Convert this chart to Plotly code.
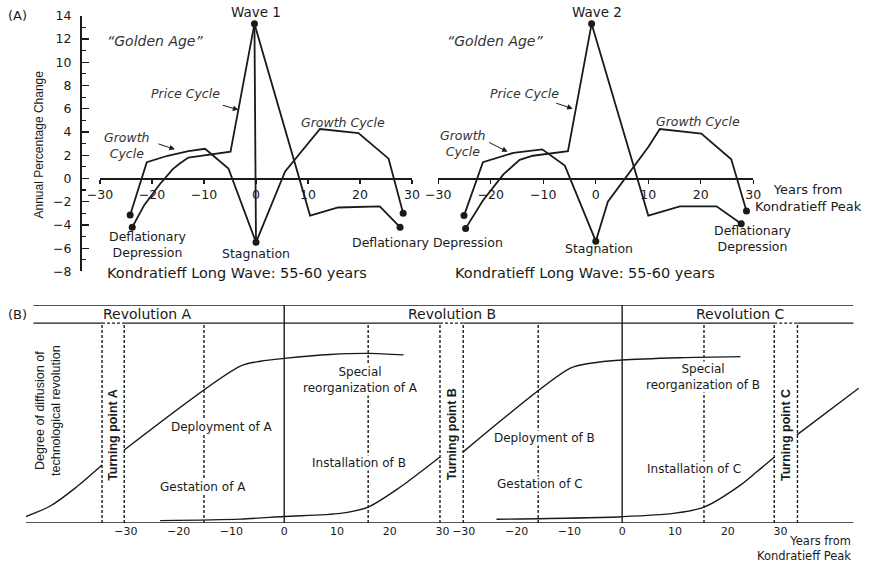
import plotly.graph_objects as go

W, H = 874, 565
FONT = "DejaVu Sans"
ARIAL = "Liberation Sans, Arial"
INK = "#1a1a1a"

# ---------------- Panel A data (annual percentage change) ----------------
xticks_A = [-30, -20, -10, 0, 10, 20, 30]
yticks_A = [-8, -6, -4, -2, 0, 2, 4, 6, 8, 10, 12, 14]

# Wave 1
w1_growth_x = [-24.2, -21.0, -17.0, -13.0, -9.8, -5.3, 0.0, 5.6, 12.3, 19.7, 25.5, 28.3]
w1_growth_y = [-3.15, 1.4, 1.95, 2.35, 2.55, 0.85, -5.5, 0.6, 4.25, 3.9, 1.7, -3.0]
w1_price_x = [-23.8, -21.5, -18.5, -16.0, -14.6, -13.0, -4.9, -0.3, 10.4, 15.8, 23.8, 27.7]
w1_price_y = [-4.2, -2.3, -0.5, 0.8, 1.3, 1.8, 2.3, 13.3, -3.2, -2.5, -2.4, -4.2]

# Wave 2
w2_growth_x = [-25.1, -21.5, -15.7, -10.2, -5.9, 0.0, 2.3, 10.0, 12.2, 20.1, 25.8, 28.7]
w2_growth_y = [-3.2, 1.4, 2.2, 2.5, 1.1, -5.4, -2.0, 2.7, 4.25, 3.85, 1.65, -2.8]
w2_price_x = [-24.8, -21.5, -17.6, -14.5, -12.0, -5.3, -0.8, 10.0, 16.0, 23.0, 27.7]
w2_price_y = [-4.3, -1.9, 0.35, 1.6, 1.95, 2.35, 13.3, -3.2, -2.4, -2.4, -3.9]

divider_x = [31.7, 34.0]          # dashed separators, in wave-1 years
divider_y = [-8.9, 13.8]

# ---------------- Panel B data (diffusion of technological revolutions) ----------------
peaks_B = [0, 64]                 # Kondratieff peaks on a common year axis
tickvals_B = [-30, -20, -10, 0, 10, 20, 30, 34, 44, 54, 64, 74, 84, 94]
ticktext_B = ["\u221230", "\u221220", "\u221210", "0", "10", "20", "30",
              "\u221230", "\u221220", "\u221210", "0", "10", "20", "30"]
turning_A = [-34.5, -30.3]
turning_B = [29.5, 33.9]
turning_C = [92.8, 97.2]
phase_lines = [-15.2, 15.9, 48.1, 79.5]

revA_x = [-49.2, -44.3, -39.6, -34.5, None, -30.3, -8.3, -4.5, 0.0, 8.7, 16.0, 22.6]
revA_y = [2.75, 7.8, 16.0, 26.6, None, 33.5, 72.0, 74.2, 75.5, 77.3, 77.8, 77.1]
revB_x = [-23.5, -8.3, 0.0, 10.6, 15.9, 22.0, 25.8, 29.5, None, 33.8, 54.2, 58.0, 64.0, 75.0, 86.4]
revB_y = [1.1, 1.8, 3.0, 4.4, 7.3, 16.5, 23.4, 30.3, None, 32.4, 71.0, 73.3, 74.8, 75.8, 76.3]
revC_x = [40.2, 64.0, 73.7, 79.5, 86.4, 89.5, 92.9, None, 97.1, 108.8]
revC_y = [1.7, 2.9, 4.4, 7.3, 17.4, 23.5, 30.4, None, 40.4, 61.8]

# ---------------- layout geometry ----------------
XA1_DOM = [100 / W, 412 / W]
XA2_DOM = [438.3 / W, 753.3 / W]
YA_DOM = [1 - 271.4 / H, 1 - 15.7 / H]
YA_RANGE = [-8, 14]
XA_RANGE = [-30, 30]


def pax(x, dom):
    return dom[0] + (x - XA_RANGE[0]) / (XA_RANGE[1] - XA_RANGE[0]) * (dom[1] - dom[0])


def pay(y):
    return YA_DOM[0] + (y - YA_RANGE[0]) / (YA_RANGE[1] - YA_RANGE[0]) * (YA_DOM[1] - YA_DOM[0])


fig = go.Figure()

line_style = dict(color=INK, width=1.8)
dot_style = dict(color=INK, size=7)


def add_wave(gx, gy, px, py, xa, vertical):
    fig.add_trace(go.Scatter(x=gx, y=gy, mode="lines", line=line_style,
                             xaxis=xa, yaxis="y", showlegend=False, hoverinfo="skip"))
    fig.add_trace(go.Scatter(x=px, y=py, mode="lines", line=line_style,
                             xaxis=xa, yaxis="y", showlegend=False, hoverinfo="skip"))
    ip = py.index(max(py))
    ig = gy.index(min(gy))
    if vertical:
        fig.add_trace(go.Scatter(x=[px[ip], gx[ig]], y=[py[ip], gy[ig]], mode="lines",
                                 line=line_style, xaxis=xa, yaxis="y",
                                 showlegend=False, hoverinfo="skip"))
    dx = [gx[0], gx[-1], px[0], px[-1], px[ip], gx[ig]]
    dy = [gy[0], gy[-1], py[0], py[-1], py[ip], gy[ig]]
    fig.add_trace(go.Scatter(x=dx, y=dy, mode="markers", marker=dot_style,
                             xaxis=xa, yaxis="y", showlegend=False, hoverinfo="skip",
                             cliponaxis=False))


add_wave(w1_growth_x, w1_growth_y, w1_price_x, w1_price_y, "x", True)
add_wave(w2_growth_x, w2_growth_y, w2_price_x, w2_price_y, "x2", False)

curve_style = dict(color=INK, width=1.4, shape="spline", smoothing=0.8)
for cx, cy in [(revA_x, revA_y), (revB_x, revB_y), (revC_x, revC_y)]:
    fig.add_trace(go.Scatter(x=cx, y=cy, mode="lines", line=curve_style,
                             connectgaps=False, xaxis="x3", yaxis="y3",
                             showlegend=False, hoverinfo="skip", cliponaxis=False))

shapes = []
dash = "3px,2px"
# Panel A separators
for dxv in divider_x:
    shapes.append(dict(type="line", xref="x", yref="y", x0=dxv, x1=dxv,
                       y0=divider_y[0], y1=divider_y[1],
                       line=dict(color=INK, width=1.5, dash=dash)))
# Panel B frame
x_left_axis, x_left_head, x_right = -48.9, -47.5, 107.8
shapes.append(dict(type="line", xref="x3", yref="y3", x0=x_left_axis, x1=x_right, y0=0, y1=0,
                   line=dict(color=INK, width=1.3)))
for yv in [100, 91.7]:
    shapes.append(dict(type="line", xref="x3", yref="y3", x0=x_left_head, x1=x_right,
                       y0=yv, y1=yv, line=dict(color=INK, width=1.3)))
for pk in peaks_B:
    shapes.append(dict(type="line", xref="x3", yref="y3", x0=pk, x1=pk, y0=0, y1=100,
                       line=dict(color=INK, width=1.4)))
for xv in turning_A + turning_B + turning_C + phase_lines:
    shapes.append(dict(type="line", xref="x3", yref="y3", x0=xv, x1=xv, y0=0, y1=91.7,
                       line=dict(color=INK, width=1.4, dash=dash)))
for tp in [turning_A, turning_B, turning_C]:
    shapes.append(dict(type="line", xref="x3", yref="y3", x0=tp[0], x1=tp[1], y0=91.7, y1=91.7,
                       line=dict(color="white", width=2)))
    shapes.append(dict(type="line", xref="x3", yref="y3", x0=tp[0], x1=tp[1], y0=91.7, y1=91.7,
                       line=dict(color=INK, width=1.4, dash=dash)))

ann = []


def txt(x, y, s, xref, yref, size=12.5, color=INK, family=FONT, bg=None, angle=0,
        xanchor="center", yanchor="middle", align="center"):
    d = dict(x=x, y=y, xref=xref, yref=yref, text=s, showarrow=False,
             font=dict(family=family, size=size, color=color), xanchor=xanchor,
             yanchor=yanchor, align=align, textangle=angle)
    if bg:
        d["bgcolor"] = bg
        d["borderpad"] = 0
    ann.append(d)


def arrow(x, y, ax, ay, xref):
    ann.append(dict(x=x, y=y, xref=xref, yref="y", ax=ax, ay=ay, text="", showarrow=True,
                    arrowhead=2, arrowsize=1.1, arrowwidth=1, arrowcolor=INK, standoff=0))


# Panel A texts (paper coordinates derived from the wave axes)
txt(17 / W, 1 - 15 / H, "(A)", "paper", "paper", size=13)
txt(38 / W, 1 - 144.5 / H, "Annual Percentage Change", "paper", "paper",
    size=12, family=ARIAL, angle=-90)

for dom, wave, wave_x, gx_lbl, gc_l, gc_r, stag, kl_x in [
        (XA1_DOM, "Wave 1", 0.0, -19.4, (-24.9, 2.85), (16.7, 4.8), (0.0, -6.46), -3.7),
        (XA2_DOM, "Wave 2", 0.3, -19.2, (-25.3, 3.0), (19.4, 4.9), (0.6, -6.0), -2.1)]:
    txt(pax(wave_x, dom), pay(14.3), wave, "paper", "paper", size=13.5)
    txt(pax(gx_lbl, dom), pay(11.8), "<i>\u201cGolden Age\u201d</i>", "paper", "paper",
        size=14, color="#333")
    txt(pax(-13.5, dom), pay(7.3), "<i>Price Cycle</i>", "paper", "paper", size=12.5,
        color="#333")
    txt(pax(gc_l[0], dom), pay(gc_l[1]), "<i>Growth<br>Cycle</i>", "paper", "paper",
        size=12.5, color="#333")
    txt(pax(gc_r[0], dom), pay(gc_r[1]), "<i>Growth Cycle</i>", "paper", "paper",
        size=12.5, color="#333")
    txt(pax(stag[0], dom), pay(stag[1]), "Stagnation", "paper", "paper", size=12.5)
    txt(pax(kl_x, dom), pay(-8.1), "Kondratieff Long Wave: 55-60 years", "paper", "paper",
        size=14.5)

arrow(-3.4, 5.9, -17, -5, "x")
arrow(-15.6, 2.5, -18, -6, "x")
arrow(-4.4, 6.0, -18, -6, "x2")
arrow(-16.8, 2.3, -20, -10, "x2")

txt(pax(-20.8, XA1_DOM), pay(-5.65), "Deflationary<br>Depression", "paper", "paper")
txt(427 / W, pay(-5.5), "Deflationary Depression", "paper", "paper")
txt(pax(29.9, XA2_DOM), pay(-5.2), "Deflationary<br>Depression", "paper", "paper")
txt(pax(40.6, XA2_DOM), pay(-1.67), "Years from<br>Kondratieff Peak", "paper", "paper",
    size=13)

# Panel B texts
txt(17 / W, 1 - 314 / H, "(B)", "paper", "paper", size=13)
for gx, s in [(-25.8, "Revolution A"), (31.8, "Revolution B"), (86.4, "Revolution C")]:
    txt(gx, 95.9, s, "x3", "y3", size=14)
txt(48 / W, 1 - 411 / H, "Degree of diffusion of<br>technological revolution", "paper", "paper",
    size=12.5, family=ARIAL, angle=-90)
for gx, s in [(-32.4, "Turning point A"), (31.7, "Turning point B"), (94.9, "Turning point C")]:
    txt(gx, 40.5, "<b>" + s + "</b>", "x3", "y3", size=12.5, family=ARIAL, angle=-90)
for gx, gy, s in [(14.4, 65.8, "Special<br>reorganization of A"),
                  (-11.7, 44.0, "Deployment of A"),
                  (14.2, 27.5, "Installation of B"),
                  (-15.3, 16.5, "Gestation of A"),
                  (79.4, 67.0, "Special<br>reorganization of B"),
                  (49.2, 39.0, "Deployment of B"),
                  (77.7, 24.8, "Installation of C"),
                  (48.5, 17.9, "Gestation of C")]:
    txt(gx, gy, s, "x3", "y3", size=12, bg="white")
txt(853 / W, 1 - 548.5 / H, "Years from<br>Kondratieff Peak", "paper", "paper", size=11.5,
    xanchor="right", align="right")

axis_font = dict(family=FONT, size=12.5, color=INK)
common_x = dict(range=XA_RANGE, tickvals=xticks_A, showline=True, linecolor=INK, linewidth=1.6,
                ticks="outside", ticklen=4, tickcolor=INK, tickwidth=1.3, showgrid=False,
                zeroline=False, anchor="free", position=1 - 178.4 / H, tickfont=axis_font,
                automargin=False)

fig.update_layout(
    template="none",
    width=W, height=H, margin=dict(l=0, r=0, t=0, b=0, pad=0), autosize=False,
    paper_bgcolor="white", plot_bgcolor="rgba(0,0,0,0)",
    xaxis=dict(domain=XA1_DOM, **common_x),
    xaxis2=dict(domain=XA2_DOM, **common_x),
    yaxis=dict(domain=YA_DOM, range=YA_RANGE, tickvals=yticks_A,
               anchor="free", position=80 / W, showline=True, linecolor=INK, linewidth=1.6,
               ticks="inside", ticklen=7, tickcolor=INK, tickwidth=1.3, showgrid=False,
               zeroline=False, tickfont=axis_font, ticklabelstandoff=6, automargin=False,
               minor=dict(dtick=1, tick0=-8, ticks="inside", ticklen=4, tickcolor=INK,
                          tickwidth=1.1, showgrid=False)),
    xaxis3=dict(domain=[26 / W, 862.4 / W], range=[-48.9, 109.5], tickvals=tickvals_B,
                ticktext=ticktext_B, showline=False, ticks="", showgrid=False, zeroline=False,
                anchor="y3", tickfont=dict(family=FONT, size=11, color=INK), automargin=False),
    yaxis3=dict(domain=[1 - 523 / H, 1 - 305 / H], range=[0, 100], visible=False,
                anchor="x3", automargin=False),
    shapes=shapes, annotations=ann, showlegend=False, hovermode=False,
)

fig.write_html("out.html",
               config={"displayModeBar": False, "staticPlot": True},
               post_script="document.body.style.margin='0px';"
                           "document.body.style.overflow='hidden';")
